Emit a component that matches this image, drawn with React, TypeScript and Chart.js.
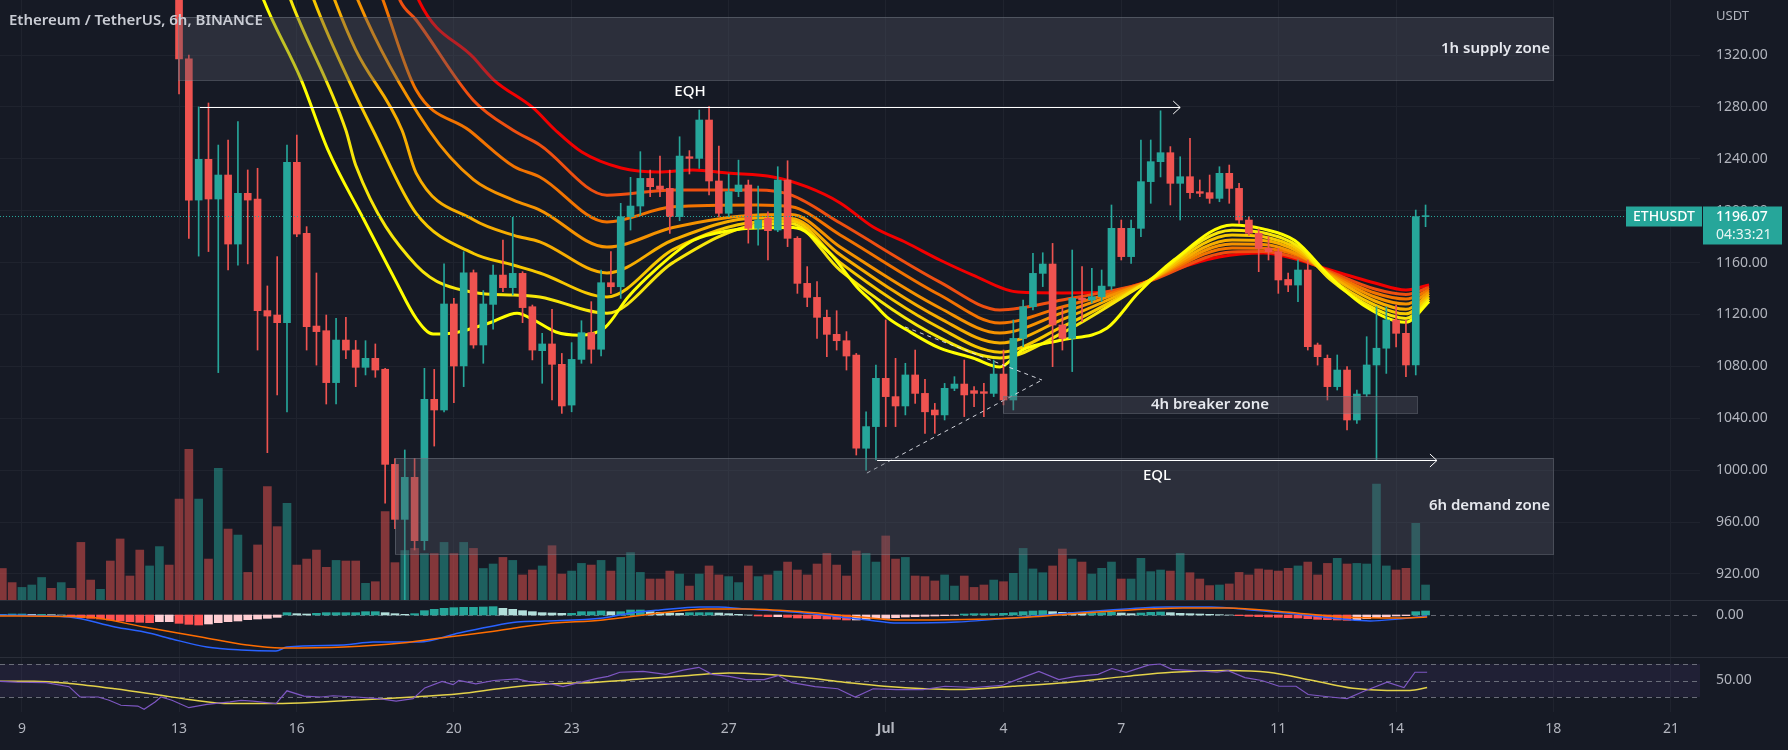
import React, { useEffect, useRef } from "react";
import { Chart, registerables } from "chart.js";
Chart.register(...registerables);

// ---------------- data ----------------
// time axis: days after 9 Jun 00:00 (UTC); 6h candles
const firstCandleDay = -0.5;
const candleStepDays = 0.25;
const dayTickValues = [0, 4, 7, 11, 14, 18, 22, 25, 28, 32, 35, 39, 42];
const dayTickLabels = ["9", "13", "16", "20", "23", "27", "Jul", "4", "7", "11", "14", "18", "21"];
const priceTicks = [920, 960, 1000, 1040, 1080, 1120, 1160, 1200, 1240, 1280, 1320];
const lastPrice = 1196.07;
const countdownText = "04:33:21";
const symbolText = "ETHUSDT";
const titleText = "Ethereum / TetherUS, 6h, BINANCE";
const currencyText = "USDT";

const candleOpen = [
  1805, 1790, 1782, 1795, 1800, 1815, 1795, 1803, 1780, 1700, 1670, 1688, 1630, 1540, 1530, 1480, 1515, 1530,
  1434, 1317, 1208.2, 1239.6, 1209, 1227.5, 1174.3, 1213.4, 1209, 1123,
  1119.6, 1113.7, 1237.3, 1182.6, 1111.1, 1107.5, 1067.5, 1100.3, 1092.6, 1079.3,
  1086.2, 1077.8, 1004.5, 962.1, 994.5, 945.7, 1054.6, 1046.4, 1128.1, 1080.3,
  1152.2, 1096.5, 1127.8, 1150.4, 1140.7, 1151.7, 1126, 1092.1, 1097.3, 1081.6,
  1050.2, 1085.4, 1106, 1093.2, 1144.5, 1141.4, 1195.4, 1203.6, 1224.9, 1219,
  1217.2, 1195.4, 1241.6, 1240.3, 1269.9, 1222.9, 1198, 1214.7, 1219.8, 1186.4,
  1194.1, 1185.1, 1223.6, 1178.7, 1144, 1133.2, 1117.8, 1104.7, 1099.8, 1088.8,
  1016.9, 1033.6, 1070.8, 1056.7, 1049.5, 1073.4, 1059.2, 1046.4, 1042.6, 1063.1,
  1066.4, 1061.3, 1060.5, 1059.2, 1074.1, 1054.1, 1101.6, 1126, 1151.7, 1158.9,
  1111.9, 1101.6, 1132.5, 1131.2, 1133.7, 1141.9, 1186.4, 1164.6, 1186.4, 1222.4,
  1237.8, 1244.7, 1221.1, 1226.2, 1214.7, 1213.9, 1209.5, 1228.8, 1217.2, 1192.8,
  1182.6, 1171, 1168.4, 1147, 1142.7, 1154.3, 1096.5, 1086.2, 1064.4, 1077.2,
  1038.7, 1058.7, 1081.1, 1094, 1115.8, 1105.5, 1081.1, 1195.4,
];
const candleHigh = [
  1815, 1798, 1800, 1810, 1830, 1820, 1810, 1808, 1785, 1712, 1695, 1690, 1640, 1560, 1545, 1530, 1540, 1540,
  1440, 1320, 1280, 1283, 1250.6, 1254.5, 1268.6, 1231.4, 1232.7, 1142,
  1164.6, 1250.6, 1258.3, 1187.7, 1152, 1119.6, 1117, 1117.8, 1100, 1099.8,
  1097.3, 1078.5, 1009, 1015.6, 1009, 1078.5, 1077.7, 1159, 1132.5, 1168.4,
  1154.3, 1138.4, 1158, 1177.4, 1194.9, 1153, 1127.3, 1105.5, 1124, 1090,
  1098.3, 1115.2, 1129.9, 1154.3, 1168.4, 1205.7, 1225.7, 1245.5, 1231.3, 1242.1,
  1231.3, 1257, 1246.3, 1277.6, 1280.2, 1249.8, 1228.3, 1239, 1223.6, 1219,
  1199.2, 1233.9, 1238.5, 1180, 1156.9, 1145.3, 1123.4, 1122.9, 1106.8, 1090,
  1045, 1081, 1115.8, 1086.2, 1082.4, 1092.6, 1070, 1051.5, 1066.9, 1072.1,
  1084.9, 1064.4, 1066.9, 1084.9, 1092.6, 1115.8, 1131.2, 1167.1, 1167.6, 1174.8,
  1126, 1169.7, 1156.9, 1155.6, 1154.3, 1204.4, 1192.8, 1192.8, 1254.5, 1254.5,
  1277, 1249.4, 1241.6, 1255.8, 1223.7, 1227.5, 1233.9, 1235.2, 1221.1, 1195.4,
  1186, 1180, 1171, 1152, 1162, 1162, 1098, 1088.8, 1088.8, 1079.8,
  1061.8, 1102.9, 1126, 1126, 1127.3, 1115.8, 1200.5, 1204.4,
];
const candleLow = [
  1780, 1775, 1778, 1788, 1795, 1790, 1785, 1770, 1680, 1660, 1665, 1620, 1520, 1515, 1465, 1470, 1490, 1420,
  1290, 1178.7, 1165, 1168.5, 1075.2, 1154.3, 1158, 1159, 1092.6, 1013.5,
  1058, 1045, 1180, 1092.6, 1081, 1051, 1051, 1086, 1064.4, 1073.4,
  1071.6, 974.5, 955, 881, 938.5, 938.5, 1018.6, 1045, 1052, 1064.4,
  1094, 1082.4, 1108.6, 1137.6, 1135, 1113.7, 1085, 1067, 1054.1, 1043.8,
  1045, 1082.4, 1082.4, 1088, 1136.3, 1132.4, 1185.1, 1196.7, 1210.8, 1210.8,
  1182.5, 1192.3, 1228.3, 1232.6, 1212.1, 1195.4, 1195.4, 1210.8, 1175, 1173.5,
  1162, 1183.8, 1172.3, 1136.3, 1126, 1101.6, 1087.5, 1092.6, 1077.2, 1011.7,
  1000, 1007.9, 1033.6, 1033.6, 1042.6, 1051.5, 1028.4, 1028.4, 1038.7, 1061.3,
  1041.3, 1049, 1041.3, 1056.7, 1050.3, 1046.4, 1095.2, 1123.5, 1141.5, 1079.8,
  1092.6, 1076, 1114.5, 1129, 1130, 1138.9, 1162, 1159.4, 1180, 1205.7,
  1226, 1204.4, 1192.8, 1209.5, 1210.8, 1205.7, 1206.9, 1205.7, 1190, 1181,
  1153, 1162, 1136.3, 1137.6, 1129.9, 1092.6, 1081, 1054.1, 1061.8, 1031,
  1036.1, 1056.7, 1007.9, 1074.6, 1095, 1072, 1073.4, 1187.7,
];
const candleClose = [
  1790, 1782, 1795, 1800, 1815, 1795, 1803, 1780, 1700, 1670, 1688, 1630, 1540, 1530, 1480, 1515, 1530, 1434,
  1317, 1208.2, 1239.6, 1209, 1227.5, 1174.3, 1213.4, 1208.2, 1123, 1118.8,
  1113.7, 1237.3, 1182, 1110.6, 1106.8, 1067.5, 1100.3, 1092.6, 1079.3, 1086.2,
  1077.2, 1004.5, 962.1, 994.5, 945.7, 1054.6, 1046.4, 1128.1, 1080.3, 1152.2,
  1096.5, 1128.1, 1150.4, 1140.7, 1151.7, 1125.3, 1092.6, 1097.3, 1081.6, 1049.5,
  1085.4, 1106, 1093.2, 1144.5, 1141.4, 1195.4, 1203.6, 1224.9, 1218.5, 1216.5,
  1195.4, 1242.1, 1240.3, 1269.9, 1222.9, 1198, 1214.7, 1219.8, 1186.4, 1192.8,
  1184.6, 1223.6, 1178.7, 1144, 1133.2, 1117.8, 1104.7, 1099.8, 1088, 1016.9,
  1033.6, 1070.8, 1056.7, 1049.5, 1073.4, 1059.2, 1045, 1042.6, 1063.1, 1066.4,
  1058, 1059.2, 1059.2, 1074.1, 1054.1, 1101.6, 1126, 1151.7, 1158.9, 1111.9,
  1101.6, 1132.5, 1131.2, 1133.7, 1141.9, 1186.4, 1164.6, 1186.4, 1222.4, 1237.8,
  1244.7, 1221.1, 1226.2, 1213.9, 1213.4, 1209.5, 1228.8, 1217.2, 1192.8, 1182.6,
  1171, 1168.4, 1146.6, 1142.7, 1154.3, 1095.2, 1087.5, 1064.4, 1077.2, 1038.7,
  1058.7, 1081.1, 1094, 1115.8, 1105.5, 1081.1, 1195.4, 1196.07,
];
// volume (thousand ETH)
const volume = [
  21, 11.6, 8.4, 10, 15, 7.8, 11.6, 7.8, 38.4, 13.3, 7.1, 26, 40.7, 16, 33.3, 22.7, 35.6, 23.3,
  67.3, 100.4, 67.3, 27.3, 87.8, 47.3, 43.3, 18.4, 36.7, 75.6,
  48.9, 64.4, 23.3, 27.3, 33.3, 21.8, 26.4, 26, 26, 11.1,
  12.2, 58.9, 24.9, 33, 34.4, 31, 31, 38.4, 31, 38.4,
  34.4, 21, 24, 28.4, 26.4, 16.7, 20, 22.7, 36.2, 17.3,
  19.3, 24.4, 23.3, 26.4, 19.3, 28.4, 31.6, 18.4, 14, 14,
  19.3, 17.3, 9.3, 17.3, 22.7, 16.7, 15.6, 11.6, 22.7, 15.6,
  16.7, 19.3, 25.3, 20, 16.7, 24, 31.1, 23.3, 16, 32.7,
  31.1, 25.3, 42.7, 27.3, 28.4, 16, 15.6, 12.7, 16.7, 9.3,
  16, 8.4, 10, 13.3, 12.2, 17.8, 34.4, 20.7, 18.2, 22.7,
  34, 27.3, 25.3, 17.3, 21.1, 25.3, 14, 14, 27.8, 18.9,
  20, 19.3, 31.1, 18.2, 14, 9.6, 10, 10.7, 18.4, 16.7,
  20.7, 20, 19.3, 21.1, 22.7, 25.3, 16.7, 24.4, 27.8, 24,
  24.4, 24, 77.3, 22.7, 20, 21.1, 51.1, 10,
];
const macdHistogram = [
  1, 1.5, 1.5, 1, 1, 0.5, 0, -2.5, -4, -5, -6, -7.5, -9, -10, -11, -11.5, -10, -10,
  -12.5, -14, -15, -13.5, -11.5, -10, -9, -7, -6, -5,
  -3.5, 3.5, 2, 1.5, 2.5, 3.5, 3.5, 3.5, 3.5, 5,
  5, 3.5, 2, 1, 2, 6.5, 8.5, 10, 11, 11.5,
  11.5, 12, 12.5, 10, 8.5, 6.5, 5, 3.5, 3, 2.5,
  2.5, 5, 5, 6, 5, 5, 7.5, 7.5, 5, 4,
  3, 2.5, 3.5, 3.5, 3.5, 3, 2, 1, 0, -1.5,
  -2.5, -2.5, -3.5, -4.5, -5, -5.5, -6, -6.5, -7.5, -7.5,
  -6.5, -5, -5, -4, -3, -2.5, -2, -1.5, -1, -0.5,
  1.5, 2, 2, 2, 2.5, 3.5, 5, 6, 6.5, 5,
  4, 3.5, 3, 3, 3.5, 4, 3, 2, 3, 4,
  4.5, 3.5, 2.5, 2, 1.5, 1, 0.5, 0, -1, -2,
  -2.5, -3, -3.5, -4, -4.5, -5.5, -6.5, -7, -7.5, -8,
  -7, -5.5, -4, -2.5, -1.5, -1, 5, 6,
];
// [day, value]
const macdLine = [
  [-0.56, 0], [1.2, -3], [2.37, -18], [3.23, -27], [3.82, -36], [4.71, -48], [5.58, -52.5], [6.47, -54],
  [6.75, -48], [8.2, -45], [8.94, -40.5], [10.11, -40.5], [11.13, -27], [11.87, -18], [12.61, -10.5],
  [13.32, -9], [14.8, -4.5], [15.51, 3], [16.25, 7.5], [17.27, 12], [17.73, 12], [18.44, 9], [19.92, 3],
  [21.09, -4.5], [21.96, -10.5], [22.36, -12], [23.82, -10.5], [25.24, -4.5], [26.69, 3], [28.12, 9],
  [29.14, 12], [30.29, 12], [31.3, 7.5], [32.45, 1.5], [33.62, -6], [34.34, -9], [35.05, -6], [35.79, -1.5],
];
const macdSignal = [
  [-0.56, -1.5], [1.63, -3], [3.11, -18], [4.56, -33], [5.73, -45], [6.6, -49.5], [8.2, -48], [9.68, -42],
  [10.85, -33], [11.87, -25.5], [13.32, -13.5], [14.8, -7.5], [16.25, 3], [17.42, 9], [18.44, 9],
  [19.92, 4.5], [21.37, -3], [22.36, -7.5], [25.24, -4.5], [27.41, 4.5], [29.57, 10.5], [30.72, 10.5],
  [32.17, 4.5], [33.62, -3], [35.05, -4.5], [35.79, -3],
];
const rsiLine = [
  [-0.56, 49], [-0.13, 48], [0.61, 47.5], [1.2, 42.5], [1.48, 30], [1.94, 30], [2.22, 26], [2.52, 20],
  [2.95, 19], [3.11, 15], [3.39, 24], [3.54, 30], [3.82, 26], [4.25, 17], [4.71, 21], [5.3, 24], [5.58, 26],
  [5.88, 25], [6.47, 22], [6.75, 37.5], [7.18, 31], [7.62, 30], [7.92, 31.5], [8.51, 30], [9.09, 28],
  [9.53, 25], [9.96, 28], [10.26, 41], [10.7, 49], [10.98, 45], [11.13, 50], [11.56, 46], [12.02, 50],
  [12.61, 52], [12.89, 49], [13.47, 46], [13.78, 42.5], [14.06, 46], [14.65, 52.5], [14.93, 55], [15.23, 60],
  [15.82, 61], [16.4, 57.5], [16.84, 62.5], [17.24, 66], [17.58, 57.5], [18.01, 55], [18.44, 51], [18.9, 51],
  [19.26, 56], [19.61, 47.5], [20.2, 42.5], [20.78, 40], [21.22, 30], [21.68, 40], [22.26, 39], [22.95, 39],
  [23.51, 43], [24.25, 41.5], [24.96, 44], [25.39, 52], [25.9, 61], [26.41, 51], [26.85, 55], [27.41, 57.5],
  [27.76, 64.5], [28.12, 60], [28.71, 69], [28.99, 70], [29.29, 63.5], [29.85, 62], [30.44, 60], [30.72, 62],
  [31.15, 53.5], [31.58, 50], [32.02, 43], [32.45, 43], [32.76, 33], [33.32, 30], [33.75, 28], [34.18, 37],
  [34.77, 48], [35.2, 41.5], [35.48, 60], [35.79, 60],
];
const rsiMovingAverage = [
  [-0.56, 49], [0.31, 49], [1.2, 46.5], [2.37, 40], [3.54, 32], [4.25, 27], [5.3, 22], [6.47, 22], [7.62, 24],
  [8.79, 27], [9.96, 30], [11.13, 34], [12.3, 41], [13.47, 46], [14.65, 48], [15.82, 52], [16.99, 56],
  [18.01, 59], [18.9, 57.5], [19.92, 53.5], [20.94, 48], [21.96, 43], [23.82, 39], [25.24, 43], [26.69, 48],
  [28.12, 55], [29.29, 60], [30.72, 62], [31.74, 60], [32.88, 50], [33.9, 40.5], [34.77, 38], [35.35, 38],
  [35.79, 41.5],
];
// moving-average ribbon, fastest (yellow) to slowest (red): [day, price]
const ribbon1 = [
  [5.5, 1420], [6.16, 1362], [7.11, 1301], [7.79, 1247], [8.71, 1193], [9.5, 1147], [10.04, 1117], [10.47, 1105],
  [11.05, 1106], [11.54, 1110], [11.95, 1114], [12.61, 1121], [13.02, 1116], [13.6, 1106.5], [14.19, 1104],
  [14.85, 1110], [15.44, 1133.5], [16.12, 1154], [17.09, 1177], [18.08, 1185], [18.72, 1186.7], [19.64, 1187],
  [20.58, 1167], [21.27, 1141], [21.68, 1129], [22.03, 1118], [22.54, 1108], [23.38, 1094], [24.22, 1086.5],
  [24.91, 1079.5], [25.47, 1092.6], [26.49, 1100.3], [27.64, 1109.6], [28.43, 1136.6], [29.34, 1162],
  [30.82, 1189], [31.61, 1186], [32.42, 1177], [33.32, 1149], [34.23, 1126], [35.25, 1114], [35.84, 1130],
];
const ribbon2 = [
  [6.2, 1420], [6.85, 1362], [8.25, 1262], [8.5, 1235], [10.04, 1158], [11.5, 1137], [12.53, 1135],
  [13.19, 1133.5], [14.9, 1121], [16.58, 1160], [18.72, 1189], [19.6, 1190], [20.84, 1154], [23.38, 1102],
  [24.91, 1086.5], [26.49, 1105.7], [28.55, 1143], [30.82, 1185], [31.61, 1183], [32.53, 1172], [33.32, 1147],
  [34.46, 1124.3], [35.25, 1117], [35.84, 1131.6],
];
const ribbon3 = [
  [6.8, 1420], [7.44, 1362], [8.5, 1289], [8.94, 1262], [10.04, 1198], [11.5, 1167], [12.53, 1158],
  [13.19, 1152], [14.9, 1133.5], [16.58, 1170], [18.72, 1191.3], [19.6, 1192], [20.84, 1160], [23.38, 1109.6],
  [24.91, 1091], [26.49, 1110.4], [28.55, 1143], [30.82, 1181.3], [31.61, 1180], [32.53, 1170], [33.32, 1148],
  [34.46, 1127.3], [35.25, 1120.5], [35.84, 1133.5],
];
const ribbon4 = [
  [7.3, 1420], [7.97, 1362], [8.5, 1324], [9.68, 1262], [10.04, 1229], [11.5, 1193], [12.53, 1181],
  [13.19, 1176], [14.9, 1152], [16.58, 1177.4], [18.72, 1194.4], [19.6, 1194], [20.84, 1166], [23.38, 1117],
  [24.91, 1098], [26.49, 1116], [28.55, 1143.5], [30.82, 1177.4], [31.61, 1177], [32.53, 1168], [33.32, 1150],
  [34.46, 1130.4], [35.25, 1124], [35.84, 1135.4],
];
const ribbon5 = [
  [7.9, 1420], [8.56, 1362], [10.37, 1262], [11.5, 1224], [12.53, 1208], [13.19, 1200.5], [14.9, 1172],
  [16.58, 1187], [18.72, 1196.7], [19.6, 1197], [20.84, 1172], [23.38, 1125], [24.91, 1105.7], [26.49, 1121.2],
  [28.55, 1144], [30.82, 1174.3], [31.61, 1174], [32.53, 1166], [33.32, 1151], [34.46, 1133.5], [35.25, 1128],
  [35.84, 1137.2],
];
const ribbon6 = [
  [8.5, 1420], [9.2, 1362], [10.04, 1293], [11.39, 1262], [12.53, 1234], [13.19, 1226], [14.9, 1191.3],
  [16.58, 1203], [18.72, 1204.4], [19.6, 1203], [20.84, 1181.3], [23.38, 1135], [24.91, 1113.5],
  [26.49, 1125.8], [28.55, 1144], [30.82, 1171.3], [31.61, 1171], [32.53, 1165], [33.32, 1152],
  [34.46, 1136.6], [35.25, 1132], [35.84, 1139],
];
const ribbon7 = [
  [9.0, 1420], [9.63, 1362], [10.04, 1347], [11.5, 1285], [12.51, 1262], [13.19, 1250.6], [14.9, 1212],
  [16.58, 1216], [18.72, 1216], [19.6, 1212], [20.84, 1190.5], [23.38, 1145], [24.91, 1123.5], [26.49, 1131.2],
  [28.55, 1144], [30.82, 1168.2], [31.61, 1168.5], [32.53, 1163], [33.32, 1153], [34.46, 1139.6],
  [35.25, 1135.5], [35.84, 1140.8],
];
const ribbon8 = [
  [9.5, 1420], [10.11, 1362], [11.5, 1318], [12.02, 1300.7], [13.02, 1279.2], [13.58, 1262.2], [14.26, 1245.2],
  [15.26, 1232.9], [16.22, 1229.8], [17.09, 1231.4], [17.96, 1229], [19.13, 1226], [20.0, 1218.3],
  [20.84, 1206], [21.68, 1187.4], [22.54, 1175.1], [23.38, 1162], [24.22, 1150.4], [25.37, 1137.3],
  [26.49, 1136.6], [27.64, 1137.3], [28.55, 1144.3], [29.34, 1154.3], [30.49, 1164.3], [31.61, 1167.4],
  [32.53, 1162], [33.32, 1154.3], [34.46, 1144.3], [35.25, 1138.9], [35.84, 1142.7],
];
const ribbons = [ribbon1, ribbon2, ribbon3, ribbon4, ribbon5, ribbon6, ribbon7, ribbon8];

// drawings (in day / price coordinates)
const zoneDrawings = [
  { label: "1h supply zone", t0: 3.98, t1: 39.0, top: 1349.3, bottom: 1300.7, align: "right" },
  { label: "6h demand zone", t0: 9.5, t1: 39.0, top: 1009.4, bottom: 935.4, align: "right" },
  { label: "4h breaker zone", t0: 24.99, t1: 35.53, top: 1057.2, bottom: 1044.1, align: "center" },
];
const levelDrawings = [
  { label: "EQH", t0: 4.53, t1: 29.5, price: 1280, side: "above" },
  { label: "EQL", t0: 21.78, t1: 36.04, price: 1007.9, side: "below" },
];
const trendDrawings = [
  [21.52, 997.8, 25.98, 1069.5],
  [22.49, 1110.4, 25.98, 1069.5],
];

// ---------------- style ----------------
const W = 1788;
const AXIS_W = 88;
const X_MIN = -0.56;
const X_MAX = 42.74;
const PRICE_MIN = 899.96;
const PRICE_MAX = 1362.39;
const VOL_MAX = 400;
const BG = "#161a25";
const GRID = "#1f232e";
const SEP = "#2a2e39";
const UP = "#26a69a";
const DOWN = "#ef5350";
const VOL_UP = "rgba(38,166,154,0.5)";
const VOL_DOWN = "rgba(239,83,80,0.5)";
const TEXT = "#b2b5be";
const FONT = "'Noto Sans', 'Open Sans', sans-serif";
const ribbonColors = ["#ffff00", "#f7e60a", "#f7c800", "#f7ad00", "#f59200", "#f27300", "#ef4f10", "#f20000"];

const xScale = (h: number) => ({
  type: "linear",
  min: X_MIN,
  max: X_MAX,
  offset: false,
  grid: { color: GRID, drawTicks: false, offset: false },
  border: { display: false },
  ticks: { display: false },
  afterBuildTicks: (s: any) => {
    s.ticks = dayTickValues.map((v) => ({ value: v }));
  },
  afterFit: (s: any) => {
    s.height = h;
  },
});
const yScale = (min: number, max: number, ticks: number[], grid: boolean) => ({
  position: "right",
  min,
  max,
  grid: { display: grid, color: GRID, drawTicks: false },
  border: { display: false },
  ticks: { display: false },
  afterBuildTicks: (s: any) => {
    s.ticks = ticks.map((v) => ({ value: v }));
  },
  afterFit: (s: any) => {
    s.width = AXIS_W;
  },
});
const baseOptions = {
  animation: false,
  responsive: false,
  devicePixelRatio: 1,
  events: [],
  layout: { padding: 0 },
  plugins: { legend: { display: false }, tooltip: { enabled: false } },
};
const pts = (arr: number[][]) => arr.map((p) => ({ x: p[0], y: p[1] }));

export default function App() {
  const mainRef = useRef<HTMLCanvasElement>(null);
  const macdRef = useRef<HTMLCanvasElement>(null);
  const rsiRef = useRef<HTMLCanvasElement>(null);

  useEffect(() => {
    const times = candleClose.map((_, k) => firstCandleDay + k * candleStepDays);
    const isUp = candleClose.map((c, k) => c >= candleOpen[k]);
    const charts: any[] = [];

    // ---------- main pane ----------
    const mainOverlay = {
      id: "mainOverlay",
      afterDatasetsDraw(chart: any) {
        const ctx = chart.ctx;
        const X = (v: number) => chart.scales.x.getPixelForValue(v);
        const Y = (v: number) => chart.scales.y.getPixelForValue(v);
        ctx.save();
        // trend dashed lines
        ctx.strokeStyle = "rgba(230,232,238,0.9)";
        ctx.lineWidth = 1;
        ctx.setLineDash([4, 4]);
        for (const d of trendDrawings) {
          ctx.beginPath();
          ctx.moveTo(X(d[0]), Y(d[1]));
          ctx.lineTo(X(d[2]), Y(d[3]));
          ctx.stroke();
        }
        ctx.setLineDash([]);
        // zones
        for (const z of zoneDrawings) {
          const x1 = Math.round(X(z.t0)), x2 = Math.round(X(z.t1));
          const y1 = Math.round(Y(z.top)), y2 = Math.round(Y(z.bottom));
          ctx.fillStyle = "rgba(84,87,99,0.36)";
          ctx.fillRect(x1, y1, x2 - x1, y2 - y1);
          ctx.strokeStyle = "rgba(125,128,140,0.45)";
          ctx.strokeRect(x1 + 0.5, y1 + 0.5, x2 - x1, y2 - y1);
          ctx.font = `600 15px ${FONT}`;
          ctx.fillStyle = "#e6e8ee";
          ctx.textBaseline = "middle";
          if (z.align === "right") {
            ctx.textAlign = "right";
            ctx.fillText(z.label, x2 - 3, (y1 + y2) / 2);
          } else {
            ctx.textAlign = "center";
            ctx.fillText(z.label, (x1 + x2) / 2, (y1 + y2) / 2);
          }
        }
        // EQH / EQL levels
        for (const l of levelDrawings) {
          const x1 = X(l.t0), x2 = X(l.t1), y = Math.round(Y(l.price)) + 0.5;
          ctx.strokeStyle = "#ffffff";
          ctx.lineWidth = 1;
          ctx.beginPath();
          ctx.moveTo(x1, y);
          ctx.lineTo(x2, y);
          ctx.moveTo(x2 - 7, y - 6.5);
          ctx.lineTo(x2, y);
          ctx.lineTo(x2 - 7, y + 6.5);
          ctx.stroke();
          ctx.font = `500 15px ${FONT}`;
          ctx.fillStyle = "#ffffff";
          ctx.textAlign = "center";
          ctx.textBaseline = "middle";
          ctx.fillText(l.label, (x1 + x2) / 2, l.side === "above" ? y - 16 : y + 15);
        }
        ctx.restore();
      },
      afterDraw(chart: any) {
        const ctx = chart.ctx;
        const Y = (v: number) => chart.scales.y.getPixelForValue(v);
        const right = chart.chartArea.right;
        ctx.save();
        // price axis labels
        ctx.font = `14px ${FONT}`;
        ctx.fillStyle = TEXT;
        ctx.textAlign = "left";
        ctx.textBaseline = "middle";
        for (const p of priceTicks) ctx.fillText(p.toFixed(2), right + 16, Y(p));
        ctx.font = `13px ${FONT}`;
        ctx.fillText(currencyText, right + 16, 16);
        // last price line and tags
        const yp = Math.round(Y(lastPrice)) + 0.5;
        ctx.strokeStyle = UP;
        ctx.lineWidth = 1;
        ctx.setLineDash([1, 2]);
        ctx.beginPath();
        ctx.moveTo(0, yp);
        ctx.lineTo(right - 74, yp);
        ctx.stroke();
        ctx.setLineDash([]);
        ctx.fillStyle = UP;
        ctx.fillRect(right - 74, yp - 10, 76, 20);
        ctx.fillRect(right + 3, yp - 10, 79, 38);
        ctx.fillStyle = "#ffffff";
        ctx.font = `500 14px ${FONT}`;
        ctx.textAlign = "center";
        ctx.fillText(symbolText, right - 36, yp + 0.5);
        ctx.textAlign = "left";
        ctx.fillText(lastPrice.toFixed(2), right + 16, yp + 0.5);
        ctx.font = `14px ${FONT}`;
        ctx.fillStyle = "#e8f5f3";
        ctx.fillText(countdownText, right + 16, yp + 18.5);
        // title
        ctx.font = `600 15px ${FONT}`;
        ctx.fillStyle = "#c9ccd4";
        ctx.textAlign = "left";
        ctx.fillText(titleText, 9, 21);
        ctx.restore();
      },
    };

    const ribbonSets = ribbons.map((r, k) => ({
      type: "line",
      data: pts(r),
      borderColor: ribbonColors[k],
      borderWidth: 3,
      pointRadius: 0,
      cubicInterpolationMode: "monotone",
      fill: false,
      yAxisID: "y",
      order: 2 + k,
    }));

    charts.push(
      new Chart(mainRef.current as any, {
        type: "bar",
        data: {
          datasets: [
            {
              label: "body",
              data: times.map((t, k) => ({ x: t, y: [candleOpen[k], candleClose[k]] })),
              backgroundColor: isUp.map((u) => (u ? UP : DOWN)),
              barThickness: 7,
              minBarLength: 1,
              grouped: false,
              borderWidth: 0,
              yAxisID: "y",
              order: 0,
            },
            {
              label: "wick",
              data: times.map((t, k) => ({ x: t, y: [candleLow[k], candleHigh[k]] })),
              backgroundColor: isUp.map((u) => (u ? UP : DOWN)),
              barThickness: 1,
              grouped: false,
              borderWidth: 0,
              yAxisID: "y",
              order: 1,
            },
            ...ribbonSets,
            {
              label: "volume",
              data: times.map((t, k) => ({ x: t, y: volume[k] })),
              backgroundColor: isUp.map((u) => (u ? VOL_UP : VOL_DOWN)),
              barThickness: 8,
              grouped: false,
              borderWidth: 0,
              yAxisID: "yv",
              order: 30,
            },
          ] as any,
        },
        options: {
          ...baseOptions,
          scales: {
            x: xScale(0),
            y: yScale(PRICE_MIN, PRICE_MAX, priceTicks, true),
            yv: { display: false, min: 0, max: VOL_MAX },
          },
        } as any,
        plugins: [mainOverlay],
      })
    );

    // ---------- MACD pane ----------
    const histColors = macdHistogram.map((v, k) => {
      const prev = k > 0 ? macdHistogram[k - 1] : v;
      if (v >= 0) return v >= prev ? "#26a69a" : "#b2dfdb";
      return v < prev ? "#ff5252" : "#ffcdd2";
    });
    const macdOverlay = {
      id: "macdOverlay",
      beforeDatasetsDraw(chart: any) {
        const ctx = chart.ctx;
        const y = Math.round(chart.scales.y.getPixelForValue(0)) + 0.5;
        ctx.save();
        ctx.strokeStyle = "rgba(120,123,134,0.8)";
        ctx.setLineDash([5, 4]);
        ctx.beginPath();
        ctx.moveTo(0, y);
        ctx.lineTo(chart.chartArea.right, y);
        ctx.stroke();
        ctx.restore();
      },
      afterDraw(chart: any) {
        const ctx = chart.ctx;
        ctx.save();
        ctx.font = `14px ${FONT}`;
        ctx.fillStyle = TEXT;
        ctx.textAlign = "left";
        ctx.textBaseline = "middle";
        ctx.fillText((0).toFixed(2), chart.chartArea.right + 16, chart.scales.y.getPixelForValue(0));
        ctx.restore();
      },
    };
    charts.push(
      new Chart(macdRef.current as any, {
        type: "bar",
        data: {
          datasets: [
            {
              type: "line",
              data: pts(macdLine),
              borderColor: "#2962ff",
              borderWidth: 1.5,
              pointRadius: 0,
              cubicInterpolationMode: "monotone",
              order: 1,
            },
            {
              type: "line",
              data: pts(macdSignal),
              borderColor: "#ff6d00",
              borderWidth: 1.5,
              pointRadius: 0,
              cubicInterpolationMode: "monotone",
              order: 0,
            },
            {
              data: times.map((t, k) => ({ x: t, y: macdHistogram[k] })),
              backgroundColor: histColors,
              barThickness: 8,
              grouped: false,
              borderWidth: 0,
              order: 5,
            },
          ] as any,
        },
        options: {
          ...baseOptions,
          scales: { x: xScale(0), y: yScale(-63, 22.5, [0], false) },
        } as any,
        plugins: [macdOverlay],
      })
    );

    // ---------- RSI pane ----------
    const rsiOverlay = {
      id: "rsiOverlay",
      beforeDatasetsDraw(chart: any) {
        const ctx = chart.ctx;
        const Y = (v: number) => chart.scales.y.getPixelForValue(v);
        const r = chart.chartArea.right;
        ctx.save();
        ctx.fillStyle = "rgba(126,87,194,0.1)";
        ctx.fillRect(0, Y(70), r, Y(30) - Y(70));
        ctx.strokeStyle = "rgba(120,123,134,0.85)";
        ctx.setLineDash([5, 4]);
        for (const v of [70, 50, 30]) {
          const y = Math.round(Y(v)) + 0.5;
          ctx.beginPath();
          ctx.moveTo(0, y);
          ctx.lineTo(r, y);
          ctx.stroke();
        }
        ctx.restore();
      },
      afterDraw(chart: any) {
        const ctx = chart.ctx;
        const X = (v: number) => chart.scales.x.getPixelForValue(v);
        ctx.save();
        ctx.fillStyle = TEXT;
        ctx.textBaseline = "middle";
        ctx.textAlign = "left";
        ctx.font = `14px ${FONT}`;
        ctx.fillText((50).toFixed(2), chart.chartArea.right + 16, chart.scales.y.getPixelForValue(50));
        ctx.textAlign = "center";
        dayTickValues.forEach((v, k) => {
          ctx.font = dayTickLabels[k] === "Jul" ? `700 14px ${FONT}` : `14px ${FONT}`;
          ctx.fillText(dayTickLabels[k], X(v), chart.chartArea.bottom + 17);
        });
        ctx.restore();
      },
    };
    charts.push(
      new Chart(rsiRef.current as any, {
        type: "line",
        data: {
          datasets: [
            {
              data: pts(rsiMovingAverage),
              borderColor: "#e3d24a",
              borderWidth: 1.5,
              pointRadius: 0,
              cubicInterpolationMode: "monotone",
              order: 1,
            },
            {
              data: pts(rsiLine),
              borderColor: "#7e57c2",
              borderWidth: 1.2,
              pointRadius: 0,
              tension: 0,
              order: 0,
            },
          ] as any,
        },
        options: {
          ...baseOptions,
          scales: { x: xScale(38), y: yScale(11.8, 78.5, [50], false) },
        } as any,
        plugins: [rsiOverlay],
      })
    );

    return () => charts.forEach((c) => c.destroy());
  }, []);

  return (
    <div style={{ position: "fixed", left: 0, top: 0, width: W, height: 750, background: BG, overflow: "hidden" }}>
      <canvas ref={mainRef} width={W} height={600} style={{ position: "absolute", left: 0, top: 0 }} />
      <canvas ref={macdRef} width={W} height={57} style={{ position: "absolute", left: 0, top: 600 }} />
      <canvas ref={rsiRef} width={W} height={93} style={{ position: "absolute", left: 0, top: 657 }} />
      <div style={{ position: "absolute", left: 0, top: 600, width: W, height: 1, background: SEP }} />
      <div style={{ position: "absolute", left: 0, top: 657, width: W, height: 1, background: SEP }} />
    </div>
  );
}
